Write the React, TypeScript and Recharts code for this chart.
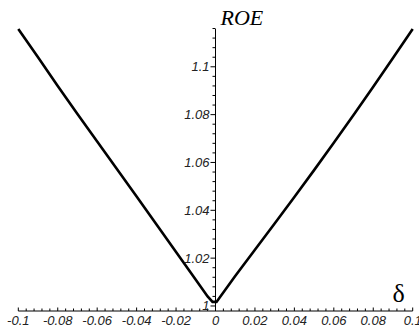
import React from "react";
import {
  LineChart,
  Line,
  XAxis,
  YAxis,
  ReferenceLine,
  Label,
} from "recharts";

// delta values, left branch then right branch
const deltas = [
  -0.1, -0.09, -0.08, -0.07, -0.06, -0.05, -0.04, -0.03, -0.02, -0.01,
  -0.004, -0.0015, 0.0005, 0.01, 0.02, 0.03, 0.04, 0.05, 0.06, 0.07, 0.08,
  0.09, 0.1,
];
const roe = [
  1.1158, 1.104, 1.092, 1.0803, 1.0688, 1.0573, 1.0458, 1.0342, 1.0226,
  1.011, 1.004, 1.0017, 1.0017, 1.0125, 1.0235, 1.0345, 1.0456, 1.0568,
  1.0682, 1.0798, 1.0917, 1.1037, 1.1158,
];

const xMajor = [-0.1, -0.08, -0.06, -0.04, -0.02, 0, 0.02, 0.04, 0.06, 0.08, 0.1];
const xLabels = ["-0.1", "-0.08", "-0.06", "-0.04", "-0.02", "0", "0.02", "0.04", "0.06", "0.08", "0.1"];
const yMajor = [1, 1.02, 1.04, 1.06, 1.08, 1.1];
const yLabels = ["1", "1.02", "1.04", "1.06", "1.08", "1.1"];

const data = deltas.map((d, i) => ({ d, roe: roe[i] }));

// minor ticks: 4 between each pair of labelled ticks
const withMinor = (major: number[], extraTop = 0) => {
  const out: number[] = [];
  const step = (major[1] - major[0]) / 5;
  for (let i = 0; i < major.length; i++) {
    out.push(major[i]);
    const n = i < major.length - 1 ? 4 : extraTop;
    for (let k = 1; k <= n; k++) out.push(+(major[i] + k * step).toFixed(4));
  }
  return out;
};
const xTicks = withMinor(xMajor);
const yTicks = withMinor(yMajor, 4);

const W = 419;
const H = 331;
const Y_W = 1;
const M = { top: 29, right: 6.3, bottom: 0, left: 18.3 - Y_W };
const AXIS_H = 20;
const Y_SHIFT = (W - M.left - Y_W - M.right) / 2;

const labelFont = {
  fontFamily: "'Liberation Sans', Arial, sans-serif",
  fontStyle: "italic" as const,
  fontSize: 13,
  fill: "#222",
};

const findMajor = (major: number[], v: number) =>
  major.findIndex((m) => Math.abs(m - v) < 1e-7);

const XTick = (props: any) => {
  const { x, y, payload } = props;
  const idx = findMajor(xMajor, payload.value);
  return (
    <g>
      <line x1={x} x2={x} y1={y} y2={y - (idx >= 0 ? 3.5 : 2.5)} stroke="#000" />
      {idx >= 0 && (
        <text x={x} y={y + 14} textAnchor="middle" {...labelFont}>
          {xLabels[idx]}
        </text>
      )}
    </g>
  );
};

const YTick = (props: any) => {
  const { x, y, payload } = props;
  const ax = x + Y_SHIFT;
  const idx = findMajor(yMajor, payload.value);
  return (
    <g>
      <line x1={ax - (idx >= 0 ? 5 : 3)} x2={ax} y1={y} y2={y} stroke="#000" />
      {idx >= 0 && (
        <text x={ax - 6} y={y + 4.5} textAnchor="end" {...labelFont}>
          {yLabels[idx]}
        </text>
      )}
    </g>
  );
};

export default function App() {
  return (
    <div style={{ position: "absolute", left: 0, top: 0, background: "#fff" }}>
      <LineChart width={W} height={H} data={data} margin={M}>
        <XAxis
          dataKey="d"
          type="number"
          domain={[-0.1, 0.1]}
          ticks={xTicks}
          interval={0}
          tickSize={0}
          tickMargin={0}
          tickLine={false}
          tick={<XTick />}
          height={AXIS_H}
          axisLine={{ stroke: "#000" }}
        >
          <Label
            content={({ viewBox }: any) => (
              <text
                x={viewBox.x + viewBox.width - 14}
                y={viewBox.y - 9}
                textAnchor="middle"
                fontFamily="'Liberation Serif', 'Times New Roman', serif"
                fontSize={26}
                fill="#000"
              >
                δ
              </text>
            )}
          />
        </XAxis>
        <YAxis
          type="number"
          domain={[0.9979, 1.1158]}
          ticks={yTicks}
          interval={0}
          width={Y_W}
          tickSize={0}
          tickMargin={0}
          tickLine={false}
          axisLine={false}
          tick={<YTick />}
        />
        <ReferenceLine
          x={0}
          stroke="#000"
          label={{
            content: ({ viewBox }: any) => (
              <text
                x={viewBox.x + 5}
                y={viewBox.y - 4}
                fontFamily="'Liberation Serif', 'Times New Roman', serif"
                fontStyle="italic"
                fontSize={22}
                fill="#000"
              >
                ROE
              </text>
            ),
          }}
        />
        <Line
          type="linear"
          dataKey="roe"
          stroke="#000"
          strokeWidth={2.6}
          dot={false}
          isAnimationActive={false}
        />
      </LineChart>
    </div>
  );
}
